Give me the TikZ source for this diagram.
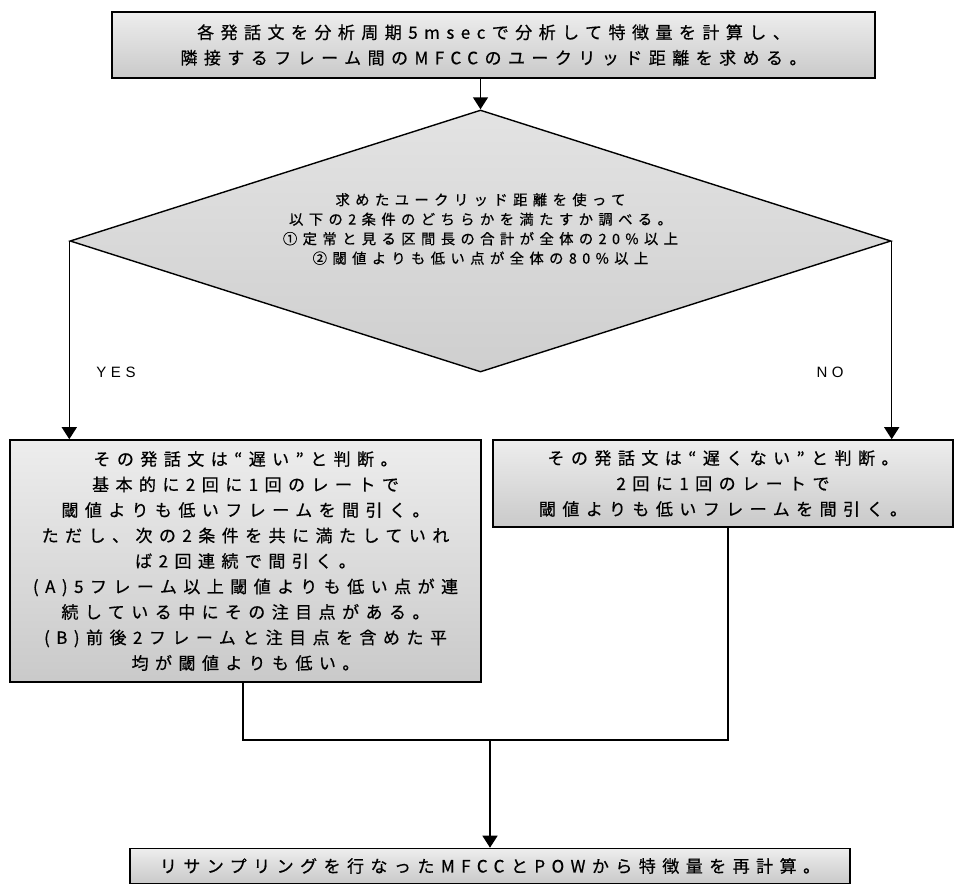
\documentclass[tikz,border=0pt]{standalone}
\usepackage{fontspec}
\setmainfont{Noto Sans CJK JP}
\newfontfamily\boxfont[LetterSpace=38,FakeBold=0.6]{Noto Sans CJK JP}
\newfontfamily\latinfont[LetterSpace=30]{Liberation Sans}
\usetikzlibrary{arrows.meta,shapes.geometric}
\begin{document}
\begin{tikzpicture}[x=1pt,y=-1pt,
  box/.style={draw=black, line width=1.6pt, top color=gray!14, bottom color=gray!42,
    inner sep=0pt, align=center, font=\boxfont\fontsize{17}{25.5}\selectfont},
  dia/.style={diamond, aspect=3.13, draw=black, line width=1.4pt, top color=gray!22, bottom color=gray!38,
    inner sep=0pt, align=center, font=\boxfont\fontsize{14.3}{19.5}\selectfont},
  lbl/.style={font=\latinfont\fontsize{15}{16}\selectfont, inner sep=0pt},
  conn/.style={line width=1.4pt},
  arr/.style={line width=1.4pt, -{Triangle[length=12pt,width=15pt]}}]
\useasboundingbox (0,0) rectangle (954,884);

\node[box, minimum width=763pt, minimum height=66pt] (top) at (493.5,45)
  {各発話文を分析周期5msecで分析して特徴量を計算し、\\隣接するフレーム間のMFCCのユークリッド距離を求める。};

\node[dia, minimum width=821pt, minimum height=262pt] (d) at (480.5,241)
  {求めたユークリッド距離を使って\\以下の2条件のどちらかを満たすか調べる。\\①定常と見る区間長の合計が全体の20\%以上\\②閾値よりも低い点が全体の80\%以上\\ \strut};

\node[box, minimum width=471pt, minimum height=242pt] (left) at (245.5,561)
  {その発話文は“遅い”と判断。\\基本的に2回に1回のレートで\\閾値よりも低いフレームを間引く。\\ただし、次の2条件を共に満たしていれ\\ば2回連続で間引く。\\(A)5フレーム以上閾値よりも低い点が連\\続している中にその注目点がある。\\(B)前後2フレームと注目点を含めた平\\均が閾値よりも低い。};

\node[box, minimum width=460pt, minimum height=87pt] (right) at (723,483.5)
  {その発話文は“遅くない”と判断。\\2回に1回のレートで\\閾値よりも低いフレームを間引く。};

\node[box, minimum width=720pt, minimum height=35pt] (bot) at (490,866)
  {リサンプリングを行なったMFCCとPOWから特徴量を再計算。};

\node[lbl] (yes) at (116,372) {YES};
\node[lbl] (no) at (830,372) {NO};

\coordinate (mL) at (243,740);
\coordinate (mR) at (728,740);
\coordinate (mM) at (490,740);

\draw[arr] (top.south -| d.north) -- (d.north);
\draw[arr] (d.west) -- (d.west |- left.north);
\draw[arr] (d.east) -- (d.east |- right.north);
\draw[conn] (left.south -| mL) -- (mL) -- (mR) -- (right.south -| mR);
\draw[arr] (mM) -- (bot.north);
\end{tikzpicture}
\end{document}
